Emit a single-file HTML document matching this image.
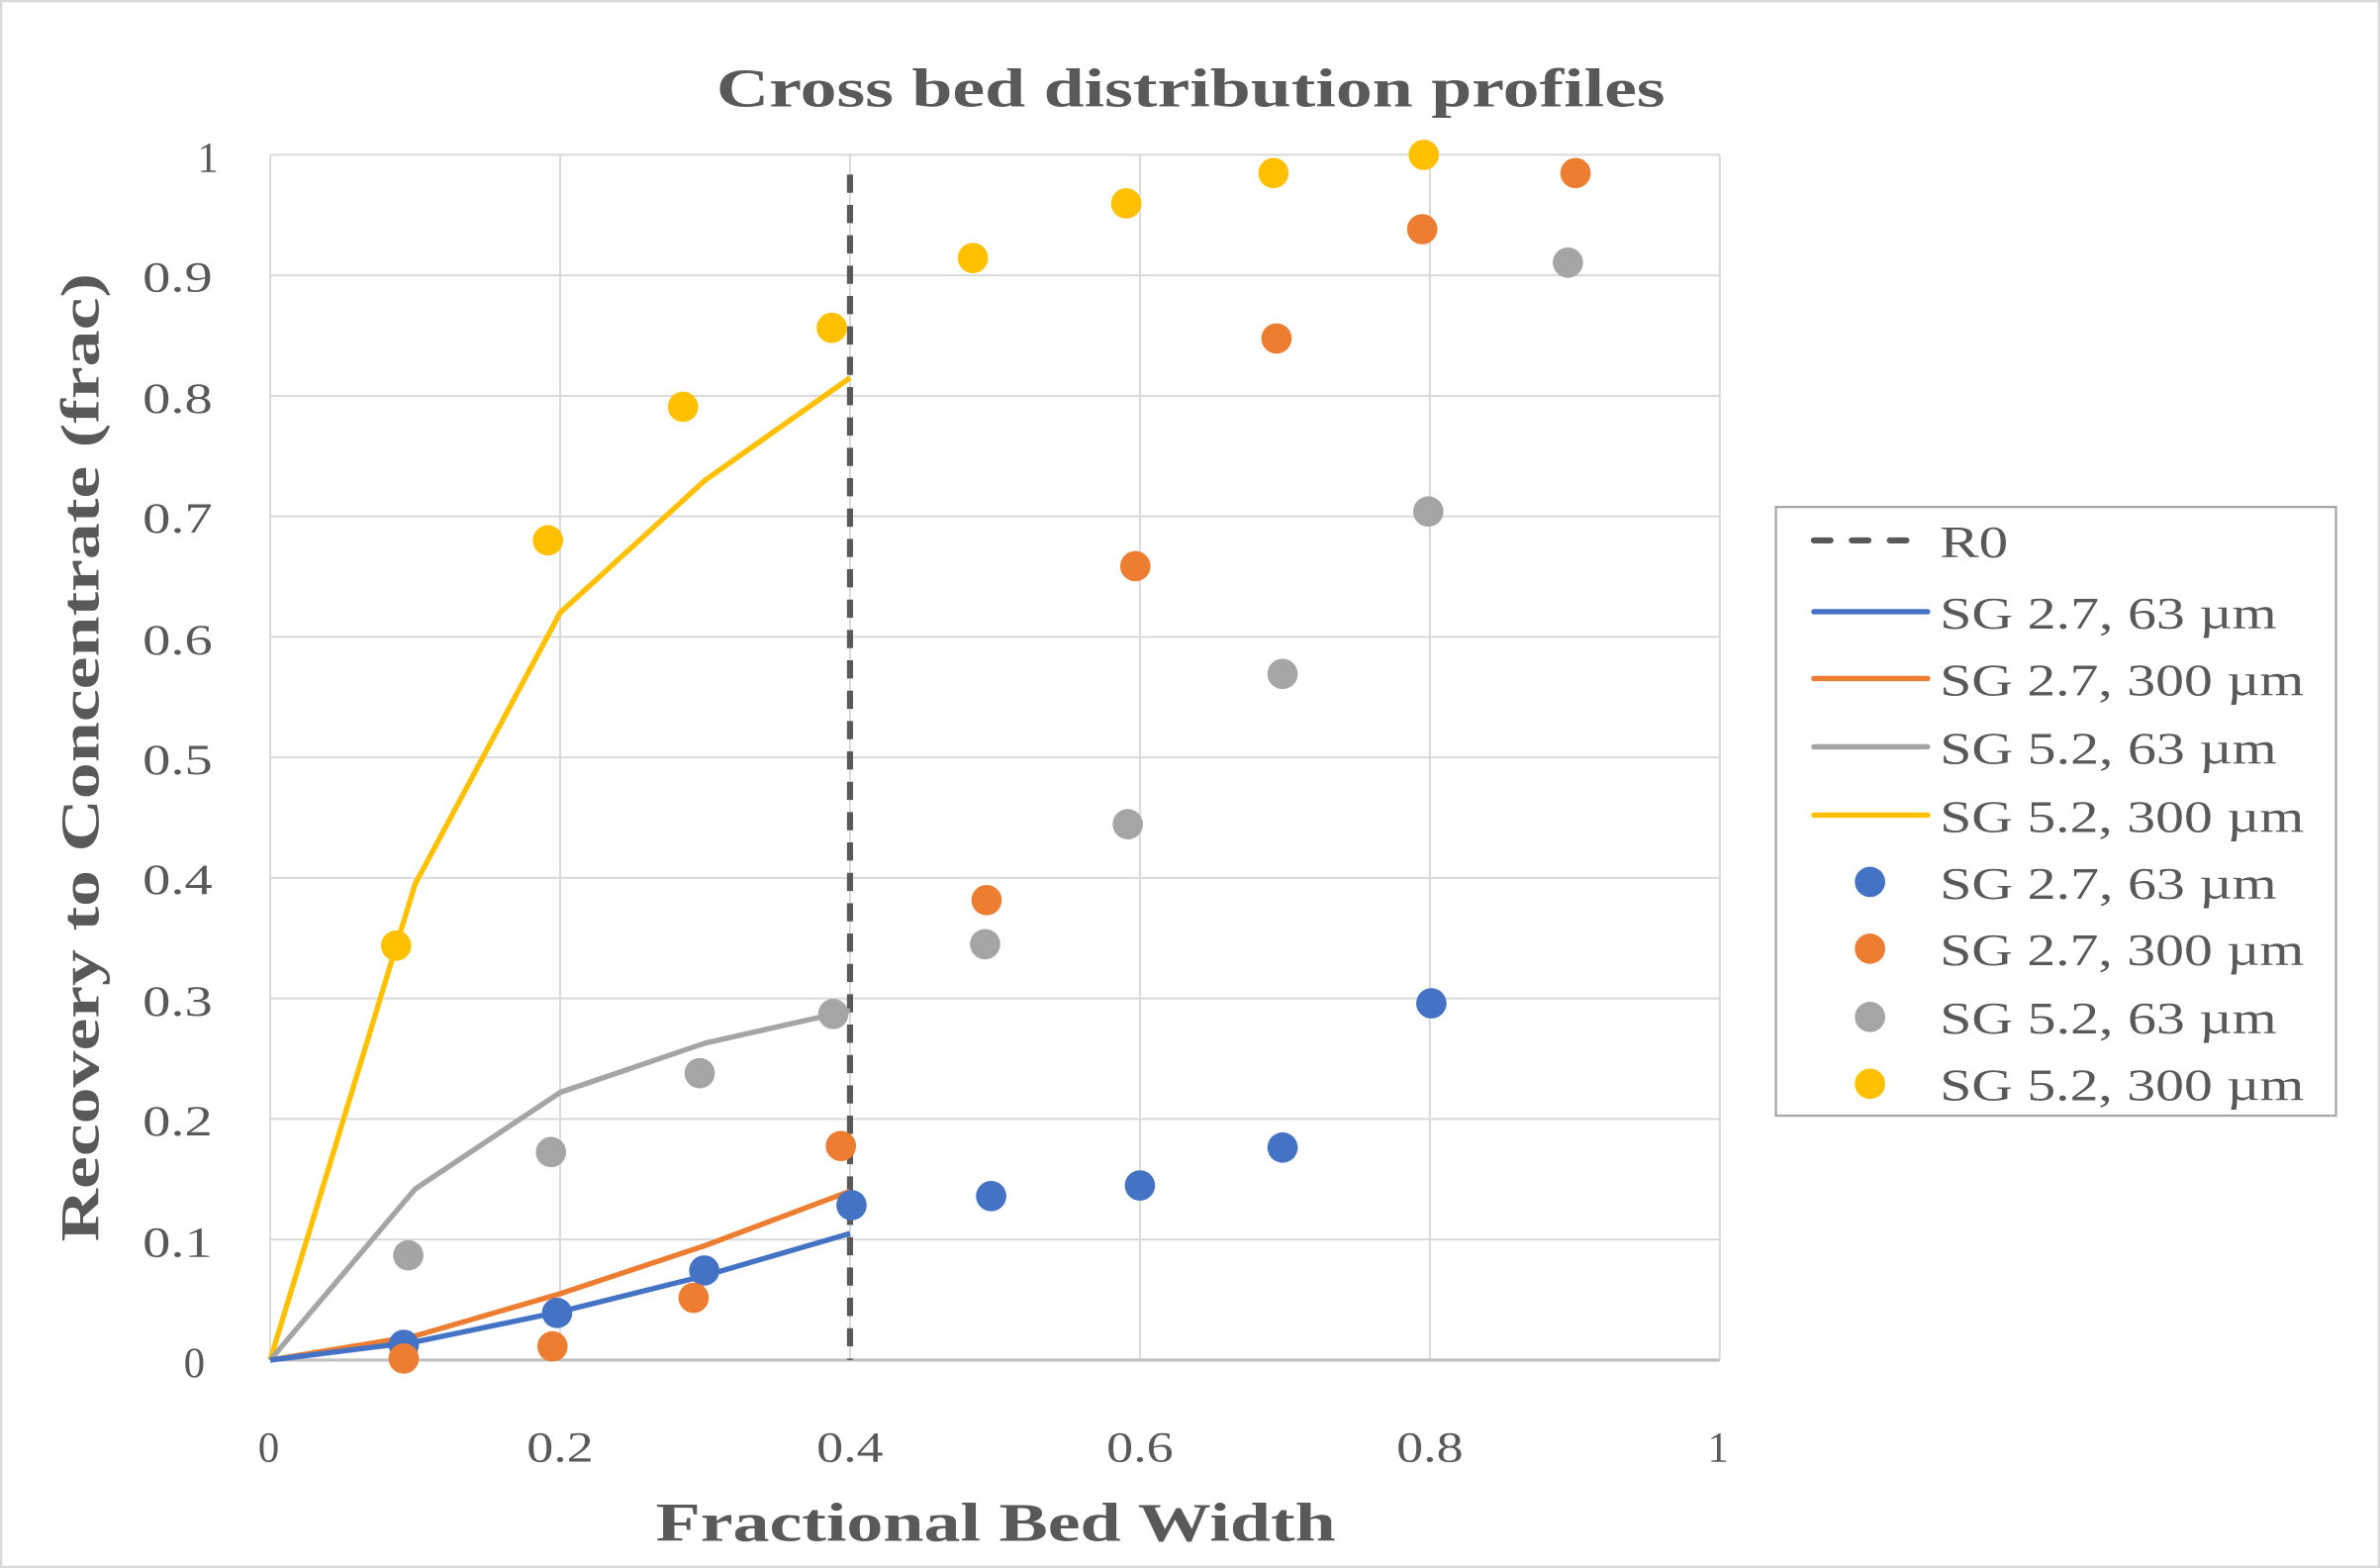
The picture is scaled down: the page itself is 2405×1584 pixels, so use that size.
<!DOCTYPE html>
<html><head><meta charset="utf-8"><style>
html,body{margin:0;padding:0;background:#fff;}
svg{display:block;}
text{font-family:"Liberation Serif",serif;fill:#595959;}
</style></head><body>
<svg width="2405" height="1584" viewBox="0 0 1568 1033" preserveAspectRatio="none" xmlns="http://www.w3.org/2000/svg">
<rect x="0.75" y="0.75" width="1566.5" height="1031.5" fill="#fff" stroke="#d9d9d9" stroke-width="1.5"/>
<text x="472" y="70" font-size="36" font-weight="bold" textLength="625" lengthAdjust="spacingAndGlyphs">Cross bed distribution profiles</text>
<g stroke="#d9d9d9" stroke-width="1.3">
<line x1="178" x2="1133" y1="102" y2="102"/><line x1="178" x2="1133" y1="181.4" y2="181.4"/>
<line x1="178" x2="1133" y1="260.8" y2="260.8"/><line x1="178" x2="1133" y1="340.2" y2="340.2"/>
<line x1="178" x2="1133" y1="419.6" y2="419.6"/><line x1="178" x2="1133" y1="499" y2="499"/>
<line x1="178" x2="1133" y1="578.4" y2="578.4"/><line x1="178" x2="1133" y1="657.8" y2="657.8"/>
<line x1="178" x2="1133" y1="737.2" y2="737.2"/><line x1="178" x2="1133" y1="816.6" y2="816.6"/>
<line x1="178" x2="178" y1="102" y2="896"/><line x1="369" x2="369" y1="102" y2="896"/>
<line x1="560" x2="560" y1="102" y2="896"/><line x1="751" x2="751" y1="102" y2="896"/>
<line x1="942" x2="942" y1="102" y2="896"/><line x1="1133" x2="1133" y1="102" y2="896"/>
</g>
<line x1="178" x2="1133" y1="896" y2="896" stroke="#bfbfbf" stroke-width="2"/>
<g font-size="28">
<text x="130" y="113">1</text>
<text x="94" y="192" textLength="46" lengthAdjust="spacingAndGlyphs">0.9</text>
<text x="94" y="272" textLength="46" lengthAdjust="spacingAndGlyphs">0.8</text>
<text x="94" y="351" textLength="46" lengthAdjust="spacingAndGlyphs">0.7</text>
<text x="94" y="431" textLength="46" lengthAdjust="spacingAndGlyphs">0.6</text>
<text x="94" y="510" textLength="46" lengthAdjust="spacingAndGlyphs">0.5</text>
<text x="94" y="589" textLength="46" lengthAdjust="spacingAndGlyphs">0.4</text>
<text x="94" y="669" textLength="46" lengthAdjust="spacingAndGlyphs">0.3</text>
<text x="94" y="748" textLength="46" lengthAdjust="spacingAndGlyphs">0.2</text>
<text x="94" y="828" textLength="46" lengthAdjust="spacingAndGlyphs">0.1</text>
<text x="121" y="907">0</text>
</g>
<g font-size="28">
<text x="170" y="963">0</text>
<text x="347" y="963" textLength="44" lengthAdjust="spacingAndGlyphs">0.2</text>
<text x="538" y="963" textLength="44" lengthAdjust="spacingAndGlyphs">0.4</text>
<text x="729" y="963" textLength="44" lengthAdjust="spacingAndGlyphs">0.6</text>
<text x="920" y="963" textLength="44" lengthAdjust="spacingAndGlyphs">0.8</text>
<text x="1125" y="963">1</text>
</g>
<text x="432" y="1015" font-size="36" font-weight="bold" textLength="448" lengthAdjust="spacingAndGlyphs">Fractional Bed Width</text>
<text transform="translate(65,818) rotate(-90)" font-size="36" font-weight="bold" textLength="638" lengthAdjust="spacingAndGlyphs">Recovery to Concentrate (frac)</text>
<line x1="560" x2="560" y1="115" y2="896" stroke="#595959" stroke-width="4" stroke-dasharray="12,8"/>
<g fill="none" stroke-width="3.5" stroke-linejoin="round">
<polyline stroke="#ffc000" points="178,896 273.5,582.4 369,403.7 464.5,316.4 560,248.9"/>
<polyline stroke="#a5a5a5" points="178,896 273.5,783.3 369,719.7 464.5,687.2 560,665.7"/>
<polyline stroke="#ed7d31" points="178,896 273.5,880.1 369,852.3 464.5,820.6 560,784.8"/>
<polyline stroke="#4472c4" points="178,896 273.5,884.1 369,864.2 464.5,840.4 560,812.6"/>
</g>
<g fill="#4472c4">
<circle cx="266" cy="886" r="10"/><circle cx="367" cy="865" r="10"/><circle cx="464" cy="837" r="10"/><circle cx="561" cy="794" r="10"/><circle cx="653" cy="788" r="10"/><circle cx="751" cy="781" r="10"/><circle cx="845" cy="756" r="10"/><circle cx="943" cy="661" r="10"/>
</g>
<g fill="#ed7d31">
<circle cx="266" cy="895" r="10"/><circle cx="364" cy="887" r="10"/><circle cx="457" cy="855" r="10"/><circle cx="554" cy="755" r="10"/><circle cx="650" cy="593" r="10"/><circle cx="748" cy="373" r="10"/><circle cx="841" cy="223" r="10"/><circle cx="937" cy="151" r="10"/><circle cx="1038" cy="114" r="10"/>
</g>
<g fill="#a5a5a5">
<circle cx="269" cy="827" r="10"/><circle cx="363" cy="759" r="10"/><circle cx="461" cy="707" r="10"/><circle cx="549" cy="668" r="10"/><circle cx="649" cy="622" r="10"/><circle cx="743" cy="543" r="10"/><circle cx="845" cy="444" r="10"/><circle cx="941" cy="337" r="10"/><circle cx="1033" cy="173" r="10"/>
</g>
<g fill="#ffc000">
<circle cx="261" cy="623" r="10"/><circle cx="361" cy="356" r="10"/><circle cx="450" cy="268" r="10"/><circle cx="548" cy="216" r="10"/><circle cx="641" cy="170" r="10"/><circle cx="742" cy="134" r="10"/><circle cx="839" cy="114" r="10"/><circle cx="938" cy="102" r="10"/>
</g>
<rect x="1170" y="334" width="369" height="401" fill="#fff" stroke="#a6a6a6" stroke-width="1.5"/>
<g stroke-width="3.5" stroke-linecap="round">
<line x1="1195" x2="1270" y1="356" y2="356" stroke="#595959" stroke-width="4" stroke-dasharray="11,14"/>
<line x1="1195" x2="1270" y1="403" y2="403" stroke="#4472c4"/>
<line x1="1195" x2="1270" y1="447" y2="447" stroke="#ed7d31"/>
<line x1="1195" x2="1270" y1="492" y2="492" stroke="#a5a5a5"/>
<line x1="1195" x2="1270" y1="537" y2="537" stroke="#ffc000"/>
</g>
<circle cx="1232" cy="581" r="10" fill="#4472c4"/>
<circle cx="1232" cy="625" r="10" fill="#ed7d31"/>
<circle cx="1232" cy="670" r="10" fill="#a5a5a5"/>
<circle cx="1232" cy="714" r="10" fill="#ffc000"/>
<g font-size="30">
<text x="1278" y="367" textLength="45" lengthAdjust="spacingAndGlyphs">R0</text>
<text x="1278" y="414" textLength="222" lengthAdjust="spacingAndGlyphs">SG 2.7, 63 µm</text>
<text x="1278" y="458" textLength="240" lengthAdjust="spacingAndGlyphs">SG 2.7, 300 µm</text>
<text x="1278" y="503" textLength="222" lengthAdjust="spacingAndGlyphs">SG 5.2, 63 µm</text>
<text x="1278" y="548" textLength="240" lengthAdjust="spacingAndGlyphs">SG 5.2, 300 µm</text>
<text x="1278" y="592" textLength="222" lengthAdjust="spacingAndGlyphs">SG 2.7, 63 µm</text>
<text x="1278" y="636" textLength="240" lengthAdjust="spacingAndGlyphs">SG 2.7, 300 µm</text>
<text x="1278" y="681" textLength="222" lengthAdjust="spacingAndGlyphs">SG 5.2, 63 µm</text>
<text x="1278" y="725" textLength="240" lengthAdjust="spacingAndGlyphs">SG 5.2, 300 µm</text>
</g>
</svg>
</body></html>
